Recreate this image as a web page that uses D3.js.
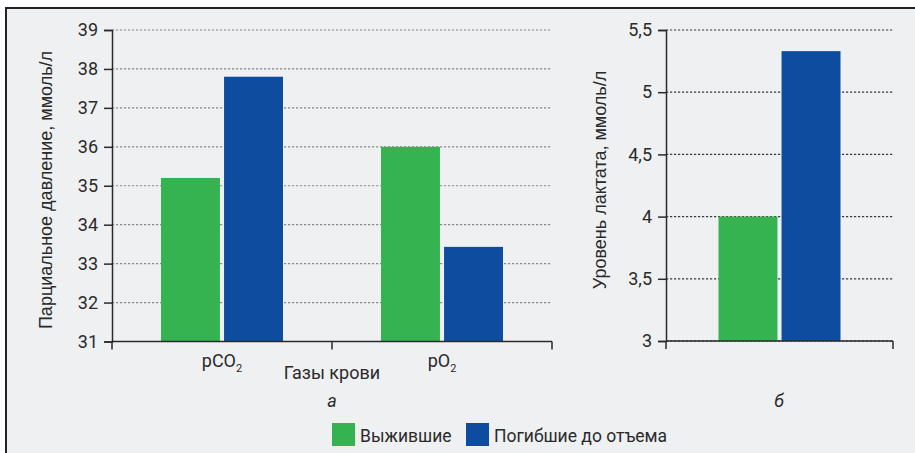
<!DOCTYPE html>
<html>
<head>
<meta charset="utf-8">
<script src="https://cdn.jsdelivr.net/npm/d3@7"></script>
<style>
  body { margin: 0; background: #fff; }
  svg { display: block; }
</style>
</head>
<body>
<div id="chart"></div>
<script>
// Data
const gases = ['pCO2', 'pO2'];
const seriesNames = ['Выжившие', 'Погибшие до отъема'];
const survivedGas = [35.2, 36.0];
const diedGas = [37.8, 33.43];
const lactateGroup = ['lactate'];
const survivedLactate = [4.0];
const diedLactate = [5.33];
const gasTicks = [31, 32, 33, 34, 35, 36, 37, 38, 39];
const lactateTicks = [3, 3.5, 4, 4.5, 5, 5.5];

const colors = ['#34b350', '#0d4c9e'];
const W = 915, H = 453;
const tickFont = 'Roboto, "DejaVu Sans", sans-serif';
const titleFont = '"Liberation Sans", Arial, sans-serif';

const svg = d3.select('#chart').append('svg')
    .attr('width', W)
    .attr('height', H);

// Panel background and frame (top + left edges only)
svg.append('rect')
    .attr('x', 6).attr('y', 8)
    .attr('width', W - 6).attr('height', H - 8)
    .attr('fill', '#eff0f2');
svg.append('path')
    .attr('d', `M6,${H} L6,8 L${W},8`)
    .attr('fill', 'none')
    .attr('stroke', '#222')
    .attr('stroke-width', 2);

function drawPanel(opts) {
    const { groups, vals, ticks, x0, x1, yDomain, yRange, gridColor, fmt } = opts;

    const x = d3.scaleBand().domain(groups).range([x0, x1]);
    const half = 61;
    const sub = d3.scaleBand().domain(seriesNames).range([0, 2 * half]).paddingInner(0.065);
    const y = d3.scaleLinear().domain(yDomain).range(yRange);

    // grid
    svg.append('g')
        .selectAll('line')
        .data(ticks)
        .join('line')
        .attr('x1', x0).attr('x2', x1)
        .attr('y1', d => y(d)).attr('y2', d => y(d))
        .attr('stroke', gridColor)
        .attr('stroke-width', 1.2)
        .attr('stroke-dasharray', '2.2,1.8');

    // bars
    const g = svg.append('g');
    groups.forEach((grp, i) => {
        const cx = x(grp) + x.bandwidth() / 2;
        seriesNames.forEach((s, j) => {
            const v = vals[j][i];
            g.append('rect')
                .attr('x', cx - half + sub(s))
                .attr('y', y(v))
                .attr('width', sub.bandwidth())
                .attr('height', y(yDomain[0]) - y(v))
                .attr('fill', colors[j]);
        });
    });

    // y axis
    const yAxis = svg.append('g')
        .attr('transform', `translate(${x0},0)`)
        .call(d3.axisLeft(y).tickValues(ticks).tickSize(8).tickPadding(6).tickFormat(fmt));
    yAxis.select('.domain').attr('stroke', '#2a2a2a').attr('stroke-width', 1.5);
    yAxis.selectAll('.tick line').attr('stroke', '#2a2a2a').attr('stroke-width', 1.5);
    yAxis.selectAll('.tick text')
        .style('font-family', tickFont)
        .style('font-size', '18px')
        .attr('fill', '#2a2a2a');

    // x axis: baseline with ticks at band edges
    const base = y(yDomain[0]);
    const xa = svg.append('g');
    xa.append('line')
        .attr('x1', x0).attr('x2', x1)
        .attr('y1', base).attr('y2', base)
        .attr('stroke', '#2a2a2a').attr('stroke-width', 1.5);
    const edges = [x0].concat(groups.map(gr => x(gr) + x.bandwidth()));
    xa.selectAll('line.edge')
        .data(edges)
        .join('line')
        .attr('class', 'edge')
        .attr('x1', d => d).attr('x2', d => d)
        .attr('y1', base).attr('y2', base + 8)
        .attr('stroke', '#2a2a2a').attr('stroke-width', 1.5);
    return { x, y };
}

const left = drawPanel({
    groups: gases,
    vals: [survivedGas, diedGas],
    ticks: gasTicks,
    x0: 112, x1: 552,
    yDomain: [31, 39], yRange: [341.5, 30],
    gridColor: '#8a8a8a',
    fmt: d => d
});

const right = drawPanel({
    groups: lactateGroup,
    vals: [survivedLactate, diedLactate],
    ticks: lactateTicks,
    x0: 666, x1: 893,
    yDomain: [3, 5.5], yRange: [341, 30],
    gridColor: '#3a3a3a',
    fmt: d => String(d).replace('.', ',')
});

// Category labels with subscript
gases.forEach(gr => {
    const cx = left.x(gr) + left.x.bandwidth() / 2;
    const t = svg.append('text')
        .attr('x', cx)
        .attr('y', 367)
        .attr('text-anchor', 'middle')
        .style('font-family', tickFont)
        .style('font-size', '18px')
        .attr('fill', '#2a2a2a');
    t.append('tspan').text(gr.slice(0, -1));
    t.append('tspan').attr('dy', 5).style('font-size', '11px').text(gr.slice(-1));
});

// Axis titles
svg.append('text')
    .attr('x', 332).attr('y', 379)
    .attr('text-anchor', 'middle')
    .style('font-family', tickFont)
    .style('font-size', '18px')
    .attr('fill', '#2a2a2a')
    .text('Газы крови');

svg.append('text')
    .attr('transform', 'translate(52,190) rotate(-90)')
    .attr('text-anchor', 'middle')
    .style('font-family', titleFont)
    .style('font-size', '18px')
    .attr('fill', '#2a2a2a')
    .text('Парциальное давление, ммоль/л');

svg.append('text')
    .attr('transform', 'translate(606,180) rotate(-90)')
    .attr('text-anchor', 'middle')
    .style('font-family', titleFont)
    .style('font-size', '18px')
    .attr('fill', '#2a2a2a')
    .text('Уровень лактата, ммоль/л');

// Panel letters
svg.append('text')
    .attr('x', 332).attr('y', 407)
    .attr('text-anchor', 'middle')
    .style('font-family', tickFont)
    .style('font-size', '18px')
    .style('font-style', 'italic')
    .attr('fill', '#2a2a2a')
    .text('а');
svg.append('text')
    .attr('x', 779).attr('y', 407)
    .attr('text-anchor', 'middle')
    .style('font-family', tickFont)
    .style('font-size', '18px')
    .style('font-style', 'italic')
    .attr('fill', '#2a2a2a')
    .text('б');

// Legend
const legendX = [332, 466];
const legend = svg.append('g');
seriesNames.forEach((s, i) => {
    legend.append('rect')
        .attr('x', legendX[i]).attr('y', 423)
        .attr('width', 23).attr('height', 23)
        .attr('fill', colors[i]);
    legend.append('text')
        .attr('x', legendX[i] + 28).attr('y', 442)
        .style('font-family', tickFont)
        .style('font-size', '17.5px')
        .attr('fill', '#2a2a2a')
        .text(s);
});
</script>
</body>
</html>
